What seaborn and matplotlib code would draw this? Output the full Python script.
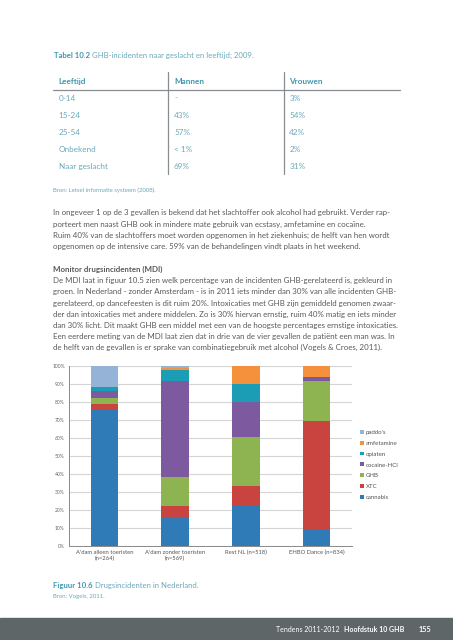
import matplotlib
matplotlib.use("Agg")
import matplotlib.pyplot as plt
import matplotlib.ticker as mticker
import numpy as np
import seaborn as sns

# data (percent of incidents per substance)
groups = ["A'dam alleen toeristen\n(n=264)", "A'dam zonder toeristen\n(n=569)",
          "Rest NL (n=518)", "EHBO Dance (n=834)"]
substances = ["cannabis", "XTC", "GHB", "cocaine-HCl", "opiaten", "amfetamine", "paddo's"]
cannabis = [76, 15.5, 22.5, 9]
xtc = [3, 7, 11, 60.5]
ghb = [3, 16, 27, 22]
cocaine = [4, 53, 19.5, 2.5]
opiaten = [2.5, 6.5, 10, 0]
amfetamine = [0, 1, 10, 6]
paddos = [11.5, 1, 0, 0]
series = [cannabis, xtc, ghb, cocaine, opiaten, amfetamine, paddos]
colors = ["#2f7bb8", "#c9433f", "#8db450", "#7d5aa0", "#1b9db5", "#f5913d", "#95b3d7"]

table_header = ["Leeftijd", "Mannen", "Vrouwen"]
table_rows = [["0-14", "-", "3%"],
              ["15-24", "43%", "54%"],
              ["25-54", "57%", "42%"],
              ["Onbekend", "< 1%", "2%"],
              ["Naar geslacht", "69%", "31%"]]

para1 = ["In ongeveer 1 op de 3 gevallen is bekend dat het slachtoffer ook alcohol had gebruikt. Verder rap-",
         "porteert men naast GHB ook in mindere mate gebruik van ecstasy, amfetamine en cocaïne.",
         "Ruim 40% van de slachtoffers moet worden opgenomen in het ziekenhuis; de helft van hen wordt",
         "opgenomen op de intensive care. 59% van de behandelingen vindt plaats in het weekend."]
para2 = ["De MDI laat in figuur 10.5 zien welk percentage van de incidenten GHB-gerelateerd is, gekleurd in",
         "groen. In Nederland - zonder Amsterdam - is in 2011 iets minder dan 30% van alle incidenten GHB-",
         "gerelateerd, op dancefeesten is dit ruim 20%. Intoxicaties met GHB zijn gemiddeld genomen zwaar-",
         "der dan intoxicaties met andere middelen. Zo is 30% hiervan ernstig, ruim 40% matig en iets minder",
         "dan 30% licht. Dit maakt GHB een middel met een van de hoogste percentages ernstige intoxicaties.",
         "Een eerdere meting van de MDI laat zien dat in drie van de vier gevallen de patiënt een man was. In",
         "de helft van de gevallen is er sprake van combinatiegebruik met alcohol (Vogels & Croes, 2011)."]

sns.set_style("white")
plt.rcParams["font.family"] = ["Lato", "DejaVu Sans"]

W, H = 453, 640
fig = plt.figure(figsize=(W / 100, H / 100), dpi=100)
renderer = fig.canvas.get_renderer()

teal = "#3f97ad"
teal_light = "#6aa9b9"
body = "#58595b"


def t(x, y, s, **kw):
    # place text at pixel position, return right edge in pixels
    kw.setdefault("va", "center_baseline")
    txt = fig.text(x / W, 1 - y / H, s, **kw)
    return txt.get_window_extent(renderer).x1


def hline(x0, x1, y, **kw):
    fig.add_artist(plt.Line2D([x0 / W, x1 / W], [1 - y / H, 1 - y / H], transform=fig.transFigure, **kw))


def vline(x, y0, y1, **kw):
    fig.add_artist(plt.Line2D([x / W, x / W], [1 - y0 / H, 1 - y1 / H], transform=fig.transFigure, **kw))


# table 10.2
x_end = t(54, 55, "Tabel 10.2", color=teal, fontsize=5.6, fontweight="bold")
t(x_end + 2, 55, "GHB-incidenten naar geslacht en leeftijd; 2009.", color=teal_light, fontsize=5.6)
col_x = [58.7, 174, 289.3]
for cx, h in zip(col_x, table_header):
    t(cx, 81, h, color=teal, fontsize=5.9, fontweight="bold")
row_y = [97.7, 114.7, 131.7, 148.7, 165.7]
for ry, row in zip(row_y, table_rows):
    for cx, v in zip(col_x, row):
        t(cx, ry, v, color=teal_light, fontsize=5.9)
hline(53.3, 399.5, 89.5, color="#8a8d8f", lw=0.9)
vline(168.3, 72, 173.5, color="#8a8d8f", lw=0.9)
vline(284, 72, 173.5, color="#8a8d8f", lw=0.9)
t(53.3, 190, "Bron: Letsel informatie systeem (2008).", color=teal_light, fontsize=4.3)

# body text
for i, line in enumerate(para1):
    t(53.3, 212.3 + i * 11.2, line, color=body, fontsize=5.68)
t(53.3, 268.7, "Monitor drugsincidenten (MDI)", color=body, fontsize=5.7, fontweight="bold")
for i, line in enumerate(para2):
    t(53.3, 280.2 + i * 11.13, line, color=body, fontsize=5.68)

# stacked bar chart
ax = fig.add_axes([69 / W, 1 - 546 / H, (352 - 69) / W, 180 / H])
bottom = np.zeros(len(groups))
for name, vals, c in zip(substances, series, colors):
    sns.barplot(x=groups, y=vals, bottom=bottom, color=c, width=0.39,
                label=name, ax=ax, saturation=1, linewidth=0)
    bottom = bottom + np.array(vals)

ax.set_ylim(0, 100)
ax.set_xlim(-0.5, 3.5)
ax.set_yticks(np.arange(0, 101, 10))
ax.yaxis.set_major_formatter(mticker.FuncFormatter(lambda v, p: f"{int(v)}%"))
ax.yaxis.grid(True, color="#d4d4d4", lw=0.8)
ax.set_axisbelow(True)
ax.tick_params(axis="y", labelsize=3.6, labelcolor="#666666", length=0, pad=3)
ax.tick_params(axis="x", labelsize=4.2, labelcolor="#555555", length=0, pad=3)
ax.set_xticks(np.arange(-0.5, 4, 1), minor=True)
ax.tick_params(axis="x", which="minor", length=3, color="#8a8a8a", width=0.6)
for s in ["top", "right"]:
    ax.spines[s].set_visible(False)
for s in ["left", "bottom"]:
    ax.spines[s].set_color("#8a8a8a")
    ax.spines[s].set_linewidth(0.7)

handles, labels = ax.get_legend_handles_labels()
leg = ax.legend(handles[::-1], labels[::-1], loc="center left", bbox_to_anchor=(1.02, 0.45),
                frameon=False, fontsize=4.4, handlelength=0.6, handleheight=0.6,
                handletextpad=0.35, labelspacing=0.95, borderaxespad=0)
for txt in leg.get_texts():
    txt.set_color("#555555")

# figure caption
x_end = t(53.3, 585, "Figuur 10.6", color=teal, fontsize=5.6, fontweight="bold")
t(x_end + 2, 585, "Drugsincidenten in Nederland.", color=teal_light, fontsize=5.6)
t(53.3, 596.3, "Bron: Vogels, 2011.", color=teal_light, fontsize=4.3)

# footer band
fig.add_artist(plt.Rectangle((0, 0), 1, (H - 617.7) / H, transform=fig.transFigure,
                             color="#5f6668", zorder=0))
t(339, 629, "Tendens 2011-2012", color="white", fontsize=5.0, ha="right")
t(344.3, 629, "Hoofdstuk 10 GHB", color="white", fontsize=5.0, fontweight="bold")
t(431.5, 629, "155", color="white", fontsize=5.2, fontweight="bold", ha="right")

fig.savefig("out.png", dpi=100)
